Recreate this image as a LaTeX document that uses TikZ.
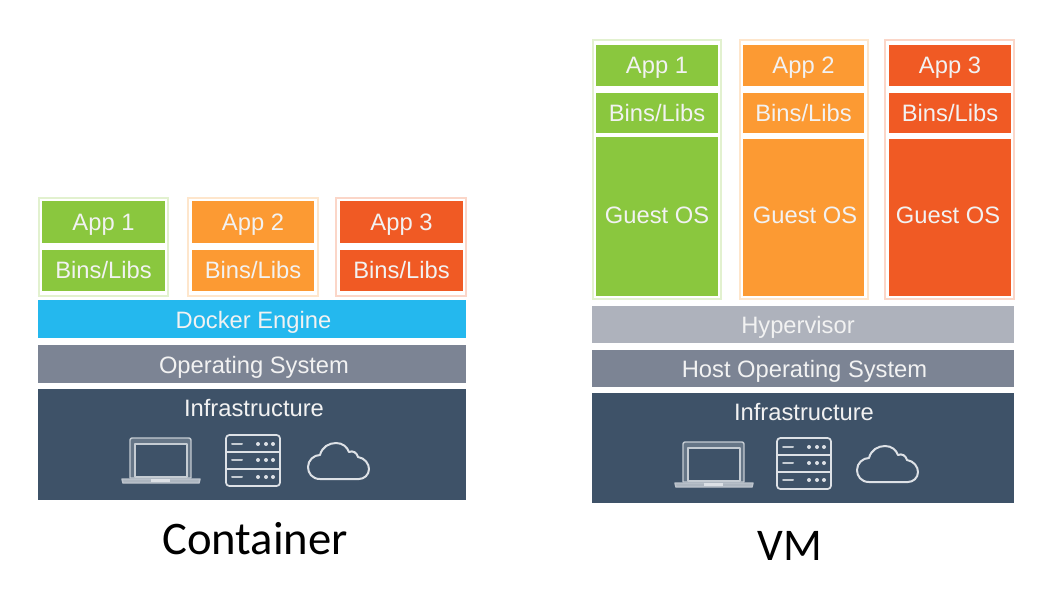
\documentclass[tikz,border=0pt]{standalone}
\usepackage{fontspec}
\setmainfont{Liberation Sans}
\newfontfamily\titlefont{Carlito}
\definecolor{cgreen}{HTML}{8AC73E}
\definecolor{corange}{HTML}{FC9A33}
\definecolor{cred}{HTML}{F05A24}
\definecolor{cblue}{HTML}{24B8EE}
\definecolor{chyper}{HTML}{AEB2BC}
\definecolor{cos}{HTML}{7C8494}
\definecolor{cinfra}{HTML}{3E5268}
\definecolor{cicon}{HTML}{DDE1E6}
\tikzset{
  x=0.75pt,y=-0.75pt,
  block/.style={draw=none,inner sep=0pt,outer sep=0pt,text=white!90!gray,font=\fontsize{17.8}{20}\selectfont,text height=12.7pt,text depth=0pt},
  frame/.style={inner sep=0pt,outer sep=0pt,fill=white,line width=1pt},
  lbl/.style={inner sep=0pt,text=white!90!gray,font=\fontsize{17.8}{20}\selectfont,text height=12.7pt,text depth=0pt},
  title/.style={inner sep=0pt,text=black,font=\titlefont\fontsize{35}{40}\selectfont},
  icon/.style={draw=cicon,line width=1.1pt,line cap=round,line join=round},
  laptop/.pic={
    \draw[icon,fill=cicon!25!cinfra,draw=cicon!85!cinfra] (8,40) -- (8,2) .. controls (8,1) and (9,0) .. (10,0) -- (67,0) .. controls (68,0) and (69,1) .. (69,2) -- (69,40) -- cycle;
    \draw[icon,fill=cinfra,line width=.8pt,draw=cicon!85!cinfra] (13,39) -- (13,6) -- (65,6) -- (65,39) -- cycle;
    \draw[icon,fill=cicon!70!cinfra,draw=cicon!80!cinfra] (0,41) -- (78,41) -- (77,45) -- (1,45) -- cycle;
    \fill[cicon] (29,41) rectangle (48,43.5);
  },
  serverrack/.pic={
    \draw[icon,rounded corners=2.5pt,line width=1.3pt] (0,0) rectangle (54,51);
    \draw[icon,line width=1.3pt] (0,17) -- (54,17) (0,34) -- (54,34);
    \foreach \y in {9,25,42}{
      \draw[icon,line width=1.5pt,draw=cicon!85!cinfra] (6,\y) -- (16,\y);
      \fill[cicon] (32,\y) circle (2) (40,\y) circle (2) (47,\y) circle (2);
    }
  },
  cloudicon/.pic={
    \draw[icon,line width=1.5pt] (13,37) .. controls (5,37) and (1,31) .. (1,25)
      .. controls (1,18) and (7,13) .. (13,13)
      .. controls (15,5) and (22,1) .. (29,1)
      .. controls (36,1) and (40,5) .. (42,10)
      .. controls (46,8) and (50,11) .. (51,15)
      .. controls (58,16) and (62,22) .. (62,27)
      .. controls (62,33) and (57,37) .. (52,37) -- cycle;
  },
}
\begin{document}
\begin{tikzpicture}
\useasboundingbox (0,0) rectangle (1054,601);
% ---- Container ----
\foreach \nm/\a/\b/\ia/\ib/\c/\txt in {1/39/168/42/165/cgreen/App 1,2/188/318/192/314/corange/App 2,3/336/466/340/463/cred/App 3}{
  \node[frame,draw=\c!25,anchor=north west,minimum width=0.75pt*(\b-\a),minimum height=0.75pt*98] (cf\nm) at (\a,198) {};
  \node[block,fill=\c,anchor=north west,minimum width=0.75pt*(\ib-\ia),minimum height=0.75pt*42] (ca\nm) at (\ia,201) {\txt};
  \node[block,fill=\c,anchor=north west,minimum width=0.75pt*(\ib-\ia),minimum height=0.75pt*41] (cb\nm) at (\ia,250) {Bins/Libs};
}
\node[block,fill=cblue,anchor=north west,minimum width=0.75pt*428,minimum height=0.75pt*38] (docker) at (38,300) {};
\node[lbl] (dockerlbl) at (253.5,320) {Docker Engine};
\node[block,fill=cos,anchor=north west,minimum width=0.75pt*428,minimum height=0.75pt*38] (cos) at (38,345) {};
\node[lbl] (coslbl) at (254,365) {Operating System};
\node[block,fill=cinfra,anchor=north west,minimum width=0.75pt*428,minimum height=0.75pt*111] (cinf) at (38,389) {};
\node[lbl] (cinflbl) at (254,408) {Infrastructure};
\pic at (122,438) {laptop};
\pic at (226,435) {serverrack};
\pic at (307,442) {cloudicon};
\node[title] (ctitle) at (255,539) {Container};
% ---- VM ----
\foreach \nm/\a/\b/\ia/\ib/\c/\txt/\gy in {1/593/721/596/718/cgreen/App 1/137,2/740/868/743/864/corange/App 2/139,3/885/1014/889/1011/cred/App 3/139}{
  \node[frame,draw=\c!25,anchor=north west,minimum width=0.75pt*(\b-\a),minimum height=0.75pt*259] (vf\nm) at (\a,40) {};
  \node[block,fill=\c,anchor=north west,minimum width=0.75pt*(\ib-\ia),minimum height=0.75pt*41] (va\nm) at (\ia,45) {\txt};
  \node[block,fill=\c,anchor=north west,minimum width=0.75pt*(\ib-\ia),minimum height=0.75pt*40] (vb\nm) at (\ia,93) {Bins/Libs};
  \node[block,fill=\c,anchor=north west,minimum width=0.75pt*(\ib-\ia),minimum height=0.75pt*(296-\gy)] (vg\nm) at (\ia,\gy) {};
}
\node[lbl] (vgl1) at (657,215) {Guest OS};
\node[lbl] (vgl2) at (805,215) {Guest OS};
\node[lbl] (vgl3) at (948,215) {Guest OS};
\node[block,fill=chyper,anchor=north west,minimum width=0.75pt*422,minimum height=0.75pt*37] (hyper) at (592,306) {};
\node[lbl] (hyperlbl) at (798,325) {Hypervisor};
\node[block,fill=cos,anchor=north west,minimum width=0.75pt*422,minimum height=0.75pt*37] (vos) at (592,350) {};
\node[lbl] (voslbl) at (804.5,369) {Host Operating System};
\node[block,fill=cinfra,anchor=north west,minimum width=0.75pt*422,minimum height=0.75pt*110] (vinf) at (592,393) {};
\node[lbl] (vinflbl) at (804,412) {Infrastructure};
\pic at (675,442) {laptop};
\pic at (777,438) {serverrack};
\pic at (856,445) {cloudicon};
\node[title,font=\titlefont\fontsize{34}{40}\selectfont] (vtitle) at (790,546) {VM};
\end{tikzpicture}
\end{document}
